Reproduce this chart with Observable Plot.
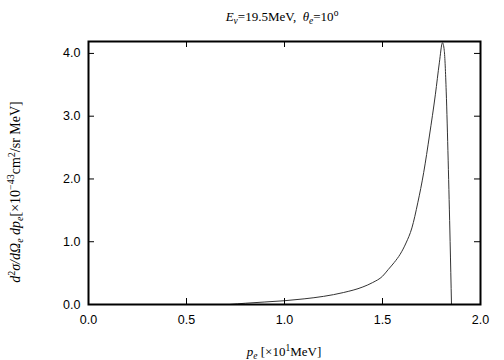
<!DOCTYPE html>
<html><head><meta charset="utf-8">
<script src="https://cdn.jsdelivr.net/npm/d3@7"></script>
<script src="https://cdn.jsdelivr.net/npm/@observablehq/plot@0.6"></script>
<style>body{margin:0;background:#fff}</style>
</head><body><div id="chart"></div>
<script>
const pe = [0.72, 0.80, 0.90, 1.00, 1.10, 1.20, 1.30, 1.40, 1.45, 1.50, 1.53, 1.56, 1.59, 1.62, 1.65, 1.68, 1.71, 1.74, 1.77, 1.79, 1.806, 1.815, 1.825, 1.835, 1.845, 1.852];
const xsec = [0.00, 0.02, 0.04, 0.06, 0.09, 0.13, 0.19, 0.28, 0.35, 0.45, 0.56, 0.67, 0.80, 0.98, 1.22, 1.62, 2.10, 2.70, 3.35, 3.85, 4.17, 4.05, 3.40, 2.30, 1.00, 0.00];
const xTicks = [0.0, 0.5, 1.0, 1.5, 2.0];
const yTicks = [0.0, 1.0, 2.0, 3.0, 4.0];
const data = pe.map((p, i) => ({p, s: xsec[i]}));

const mL = 88, mR = 24, mT = 41, mB = 56, W = 504, H = 360;
const fw = W - mL - mR, fh = H - mT - mB, tk = 6;
const inner = [0.5, 1.0, 1.5];
const innerY = [1.0, 2.0, 3.0, 4.0];

const plot = Plot.plot({
  width: W, height: H,
  marginLeft: mL, marginRight: mR, marginTop: mT, marginBottom: mB,
  style: {fontFamily: "'Liberation Sans', Arial, sans-serif", fontSize: "12.5px", color: "#000", background: "#fff"},
  x: {domain: [0, 2], ticks: xTicks, tickFormat: d3.format(".1f")},
  y: {domain: [0, 4.19], ticks: yTicks, tickFormat: d3.format(".1f")},
  marks: [
    Plot.line(data, {x: "p", y: "s", stroke: "#333", strokeWidth: 1, curve: "monotone-x"}),
    Plot.tickX(inner, {x: d => d, insetTop: fh - tk, stroke: "#000", strokeWidth: 1}),
    Plot.tickX(inner, {x: d => d, insetBottom: fh - tk, stroke: "#000", strokeWidth: 1}),
    Plot.tickY(innerY, {y: d => d, insetRight: fw - tk, stroke: "#000", strokeWidth: 1}),
    Plot.tickY(innerY, {y: d => d, insetLeft: fw - tk, stroke: "#000", strokeWidth: 1}),
    Plot.axisX({ticks: xTicks, tickSize: 0, tickPadding: 11, label: null, tickFormat: d3.format(".1f")}),
    Plot.axisY({ticks: yTicks, tickSize: 0, tickPadding: 8, label: null, tickFormat: d3.format(".1f")}),
    Plot.frame({stroke: "#000", strokeWidth: 2})
  ]
});
document.getElementById("chart").appendChild(plot);

const svg = d3.select(plot);
const serif = "'Liberation Serif', 'Times New Roman', serif";

// title
const t = svg.append("text").attr("x", 282).attr("y", 21).attr("text-anchor", "middle")
  .attr("font-family", serif).attr("font-size", 13).attr("fill", "#000");
t.append("tspan").attr("font-style", "italic").text("E");
t.append("tspan").attr("font-style", "italic").attr("font-size", 9.5).attr("dy", 3).text("ν");
t.append("tspan").attr("dy", -3).text("=19.5MeV,  ");
t.append("tspan").attr("font-style", "italic").text("θ");
t.append("tspan").attr("font-style", "italic").attr("font-size", 9.5).attr("dy", 3).text("e");
t.append("tspan").attr("dy", -3).text("=10");
t.append("tspan").attr("font-size", 9.5).attr("dy", -5).text("o");

// x label
const xl = svg.append("text").attr("x", 284).attr("y", 356).attr("text-anchor", "middle")
  .attr("font-family", serif).attr("font-size", 13).attr("fill", "#000");
xl.append("tspan").attr("font-style", "italic").text("p");
xl.append("tspan").attr("font-style", "italic").attr("font-size", 9.5).attr("dy", 3).text("e");
xl.append("tspan").attr("dy", -3).text(" [×10");
xl.append("tspan").attr("font-size", 9.5).attr("dy", -5).text("1");
xl.append("tspan").attr("dy", 5).text("MeV]");

// y label
const yl = svg.append("text").attr("transform", "translate(20,192) rotate(-90)").attr("text-anchor", "middle")
  .attr("font-family", serif).attr("font-size", 14).attr("fill", "#000");
yl.append("tspan").attr("font-style", "italic").text("d");
yl.append("tspan").attr("font-size", 10).attr("dy", -5).text("2");
yl.append("tspan").attr("dy", 5).attr("font-style", "italic").text("σ/dΩ");
yl.append("tspan").attr("font-style", "italic").attr("font-size", 10).attr("dy", 3).text("e");
yl.append("tspan").attr("dy", -3).attr("font-style", "italic").text(" dp");
yl.append("tspan").attr("font-style", "italic").attr("font-size", 10).attr("dy", 3).text("e");
yl.append("tspan").attr("dy", -3).text("[×10");
yl.append("tspan").attr("font-size", 10).attr("dy", -6).text("−43");
yl.append("tspan").attr("dy", 6).text("cm");
yl.append("tspan").attr("font-size", 10).attr("dy", -5).text("2");
yl.append("tspan").attr("dy", 5).text("/sr MeV]");
</script>
</body></html>
